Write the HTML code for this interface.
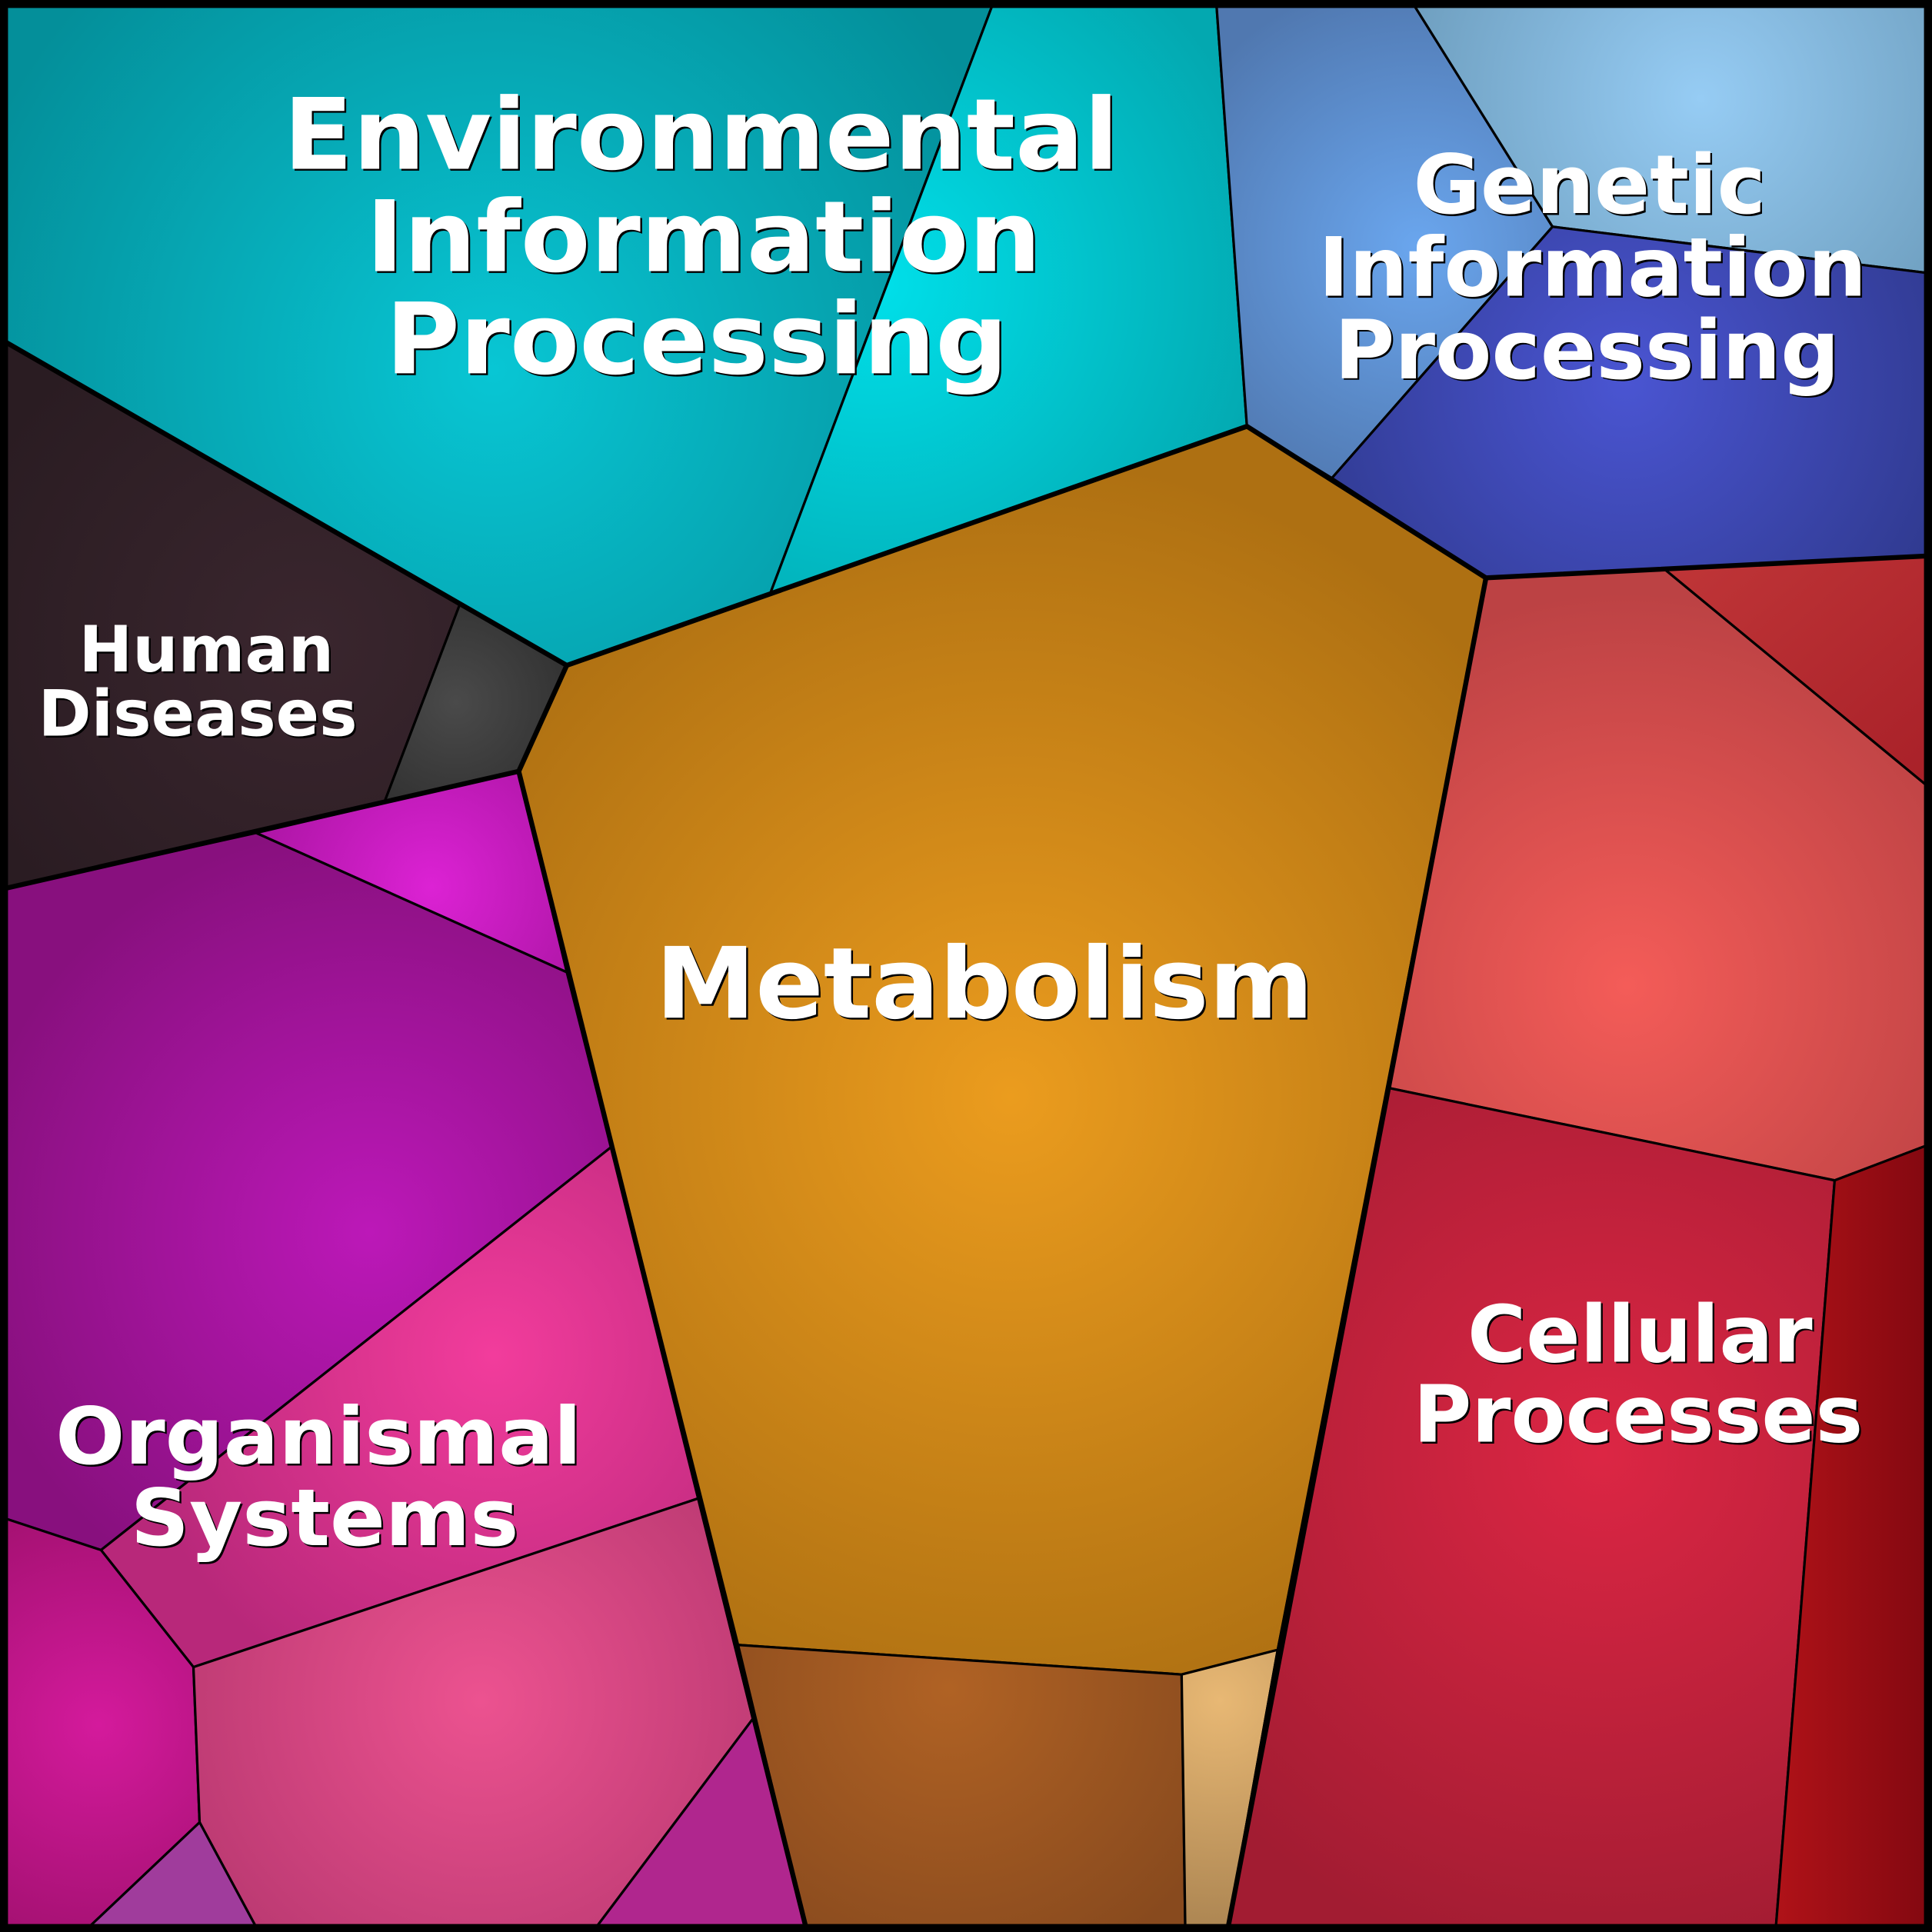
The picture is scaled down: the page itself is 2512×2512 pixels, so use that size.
<!DOCTYPE html>
<html><head><meta charset="utf-8"><style>
html,body{margin:0;padding:0;background:#000}
svg{display:block}
text{font-family:"DejaVu Sans","Liberation Sans",sans-serif;font-weight:bold;text-anchor:start}
</style></head><body>
<svg width="2512" height="2512" viewBox="0 0 1568 1568" xmlns="http://www.w3.org/2000/svg">
<defs>
<radialGradient id="env1" gradientUnits="userSpaceOnUse" cx="400" cy="300" r="450"><stop offset="0" stop-color="#08c6d4"/><stop offset="1" stop-color="#048f9a"/></radialGradient>
<radialGradient id="env2" gradientUnits="userSpaceOnUse" cx="710" cy="230" r="330"><stop offset="0" stop-color="#00e0ea"/><stop offset="1" stop-color="#03a8b0"/></radialGradient>
<radialGradient id="gen1" gradientUnits="userSpaceOnUse" cx="1150" cy="200" r="220"><stop offset="0" stop-color="#6aa6ee"/><stop offset="1" stop-color="#5078b0"/></radialGradient>
<radialGradient id="gen2" gradientUnits="userSpaceOnUse" cx="1380" cy="80" r="260"><stop offset="0" stop-color="#96ccf4"/><stop offset="1" stop-color="#6c9cbc"/></radialGradient>
<radialGradient id="gen3" gradientUnits="userSpaceOnUse" cx="1320" cy="310" r="280"><stop offset="0" stop-color="#4a55d2"/><stop offset="1" stop-color="#303a90"/></radialGradient>
<radialGradient id="hum1" gradientUnits="userSpaceOnUse" cx="250" cy="520" r="300"><stop offset="0" stop-color="#3a262e"/><stop offset="1" stop-color="#2a1c22"/></radialGradient>
<radialGradient id="hum2" gradientUnits="userSpaceOnUse" cx="370" cy="570" r="120"><stop offset="0" stop-color="#4a4a4a"/><stop offset="1" stop-color="#2c2c2c"/></radialGradient>
<radialGradient id="met" gradientUnits="userSpaceOnUse" cx="820" cy="890" r="520"><stop offset="0" stop-color="#eb9c1e"/><stop offset="1" stop-color="#ae7012"/></radialGradient>
<radialGradient id="met2" gradientUnits="userSpaceOnUse" cx="770" cy="1370" r="250"><stop offset="0" stop-color="#b06224"/><stop offset="1" stop-color="#884a1e"/></radialGradient>
<radialGradient id="met3" gradientUnits="userSpaceOnUse" cx="990" cy="1380" r="200"><stop offset="0" stop-color="#e8b874"/><stop offset="1" stop-color="#a88250"/></radialGradient>
<radialGradient id="org1" gradientUnits="userSpaceOnUse" cx="300" cy="1000" r="330"><stop offset="0" stop-color="#bc18b8"/><stop offset="1" stop-color="#88107e"/></radialGradient>
<radialGradient id="org2" gradientUnits="userSpaceOnUse" cx="350" cy="720" r="160"><stop offset="0" stop-color="#dc22d4"/><stop offset="1" stop-color="#a814a0"/></radialGradient>
<radialGradient id="org3" gradientUnits="userSpaceOnUse" cx="400" cy="1100" r="300"><stop offset="0" stop-color="#f23c9c"/><stop offset="1" stop-color="#b8287a"/></radialGradient>
<radialGradient id="org4" gradientUnits="userSpaceOnUse" cx="80" cy="1400" r="200"><stop offset="0" stop-color="#d41a9c"/><stop offset="1" stop-color="#a0106e"/></radialGradient>
<radialGradient id="org5" gradientUnits="userSpaceOnUse" cx="390" cy="1380" r="280"><stop offset="0" stop-color="#ec5290"/><stop offset="1" stop-color="#b83870"/></radialGradient>
<radialGradient id="cel1" gradientUnits="userSpaceOnUse" cx="1320" cy="800" r="320"><stop offset="0" stop-color="#f45c58"/><stop offset="1" stop-color="#bc4244"/></radialGradient>
<radialGradient id="cel2" gradientUnits="userSpaceOnUse" cx="1300" cy="1180" r="420"><stop offset="0" stop-color="#dc2644"/><stop offset="1" stop-color="#a21c32"/></radialGradient>
<linearGradient id="cel3" x1="0" y1="0" x2="1" y2="0"><stop offset="0" stop-color="#b01218"/><stop offset="1" stop-color="#820810"/></linearGradient>
<linearGradient id="cel4" x1="0" y1="0" x2="1" y2="1"><stop offset="0" stop-color="#c03638"/><stop offset="1" stop-color="#a82028"/></linearGradient>
</defs>
<g stroke="#000" stroke-width="2" stroke-linejoin="round">
<polygon fill="url(#env1)" points="0,0 807,0 625,482 460,540 373,491 0,275"/>
<polygon fill="url(#env2)" points="807,0 987,0 1012,346 625,482"/>
<polygon fill="url(#gen1)" points="987,0 1145,0 1260,184 1081,388 1012,346"/>
<polygon fill="url(#gen2)" points="1145,0 1568,0 1568,222 1260,184"/>
<polygon fill="url(#gen3)" points="1260,184 1568,222 1568,451 1206,469 1081,388"/>
<polygon fill="url(#hum1)" points="0,275 373,491 312,651 0,722"/>
<polygon fill="url(#hum2)" points="373,491 460,540 421,626 312,651"/>
<polygon fill="url(#met)" points="460,540 1012,346 1206,469 1037,1339 959,1359 599,1335 421,626"/>
<polygon fill="url(#met2)" points="599,1335 959,1359 962,1568 655,1568"/>
<polygon fill="url(#met3)" points="959,1359 1037,1339 996,1568 962,1568"/>
<polygon fill="url(#org1)" points="0,722 208,676 460,789 496,931 82,1258 0,1231"/>
<polygon fill="url(#org2)" points="208,676 421,626 460,789"/>
<polygon fill="url(#org3)" points="496,931 567,1216 157,1353 82,1258"/>
<polygon fill="url(#org4)" points="0,1231 82,1258 157,1353 162,1479 68,1568 0,1568"/>
<polygon fill="url(#org5)" points="157,1353 567,1216 611,1395 481,1568 210,1568 162,1479"/>
<polygon fill="#a03c9c" points="162,1479 210,1568 68,1568"/>
<polygon fill="#b0268e" points="611,1395 655,1568 481,1568"/>
<polygon fill="url(#cel1)" points="1206,469 1351,462 1568,641 1568,928 1489,958 1127,883"/>
<polygon fill="url(#cel4)" points="1351,462 1568,451 1568,641"/>
<polygon fill="url(#cel2)" points="1127,883 1489,958 1441,1568 996,1568 1037,1339"/>
<polygon fill="url(#cel3)" points="1489,958 1568,928 1568,1568 1441,1568"/>
</g>
<g fill="none" stroke="#000" stroke-width="4" stroke-linejoin="round">
<polyline points="0,275 460,540 1012,346 1206,469 1568,451"/>
<polyline points="460,540 421,626 0,722"/>
<polyline points="421,626 655,1568"/>
<polyline points="1206,469 996,1568"/>
<rect x="3" y="3" width="1562" height="1562" stroke-width="7"/>
</g>
<g fill="#000" transform="translate(1.5,1.5)">
<text x="230" y="137" font-size="80" textLength="678" lengthAdjust="spacingAndGlyphs">Environmental</text>
<text x="297" y="220" font-size="80" textLength="548" lengthAdjust="spacingAndGlyphs">Information</text>
<text x="313" y="303" font-size="80" textLength="505" lengthAdjust="spacingAndGlyphs">Processing</text>
<text x="1147" y="173" font-size="66" textLength="286" lengthAdjust="spacingAndGlyphs">Genetic</text>
<text x="1070" y="240" font-size="66" textLength="445" lengthAdjust="spacingAndGlyphs">Information</text>
<text x="1083" y="307" font-size="66" textLength="410" lengthAdjust="spacingAndGlyphs">Processing</text>
<text x="64" y="545" font-size="52" textLength="207" lengthAdjust="spacingAndGlyphs">Human</text>
<text x="31" y="597" font-size="52" textLength="259" lengthAdjust="spacingAndGlyphs">Diseases</text>
<text x="532" y="826" font-size="80" textLength="534" lengthAdjust="spacingAndGlyphs">Metabolism</text>
<text x="45" y="1188" font-size="64" textLength="427" lengthAdjust="spacingAndGlyphs">Organismal</text>
<text x="106" y="1254" font-size="64" textLength="315" lengthAdjust="spacingAndGlyphs">Systems</text>
<text x="1191" y="1105" font-size="64" textLength="280" lengthAdjust="spacingAndGlyphs">Cellular</text>
<text x="1147" y="1170" font-size="64" textLength="365" lengthAdjust="spacingAndGlyphs">Processes</text>
</g>
<g fill="#fff">
<text x="230" y="137" font-size="80" textLength="678" lengthAdjust="spacingAndGlyphs">Environmental</text>
<text x="297" y="220" font-size="80" textLength="548" lengthAdjust="spacingAndGlyphs">Information</text>
<text x="313" y="303" font-size="80" textLength="505" lengthAdjust="spacingAndGlyphs">Processing</text>
<text x="1147" y="173" font-size="66" textLength="286" lengthAdjust="spacingAndGlyphs">Genetic</text>
<text x="1070" y="240" font-size="66" textLength="445" lengthAdjust="spacingAndGlyphs">Information</text>
<text x="1083" y="307" font-size="66" textLength="410" lengthAdjust="spacingAndGlyphs">Processing</text>
<text x="64" y="545" font-size="52" textLength="207" lengthAdjust="spacingAndGlyphs">Human</text>
<text x="31" y="597" font-size="52" textLength="259" lengthAdjust="spacingAndGlyphs">Diseases</text>
<text x="532" y="826" font-size="80" textLength="534" lengthAdjust="spacingAndGlyphs">Metabolism</text>
<text x="45" y="1188" font-size="64" textLength="427" lengthAdjust="spacingAndGlyphs">Organismal</text>
<text x="106" y="1254" font-size="64" textLength="315" lengthAdjust="spacingAndGlyphs">Systems</text>
<text x="1191" y="1105" font-size="64" textLength="280" lengthAdjust="spacingAndGlyphs">Cellular</text>
<text x="1147" y="1170" font-size="64" textLength="365" lengthAdjust="spacingAndGlyphs">Processes</text>
</g>
</svg>
</body></html>
